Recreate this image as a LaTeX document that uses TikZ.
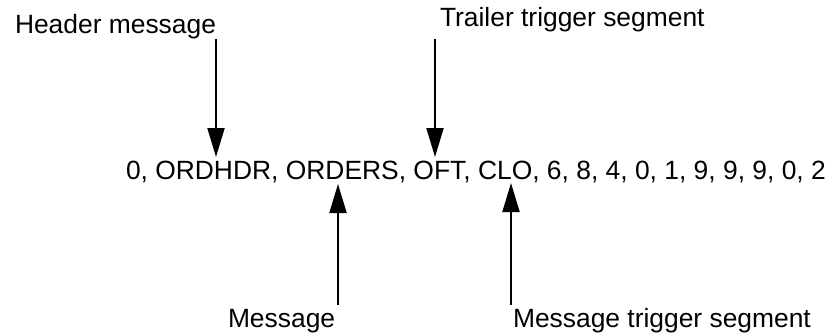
\documentclass[tikz,border=0pt]{standalone}
\usepackage{fontspec}
\setmainfont{Liberation Sans}
\usetikzlibrary{arrows.meta, positioning}

\begin{document}
\begin{tikzpicture}[x=0.5pt,y=-0.5pt,>={Triangle[length=14.5pt,width=8.5pt]},
  line width=1pt,
  label text/.style={inner sep=0pt,anchor=base west,font=\fontsize{13.2}{15}\selectfont}]
  \useasboundingbox (0,0) rectangle (833,333);
  % the record line
  \node[label text] (line) at (125,179) {0, ORDHDR, ORDERS, OFT, CLO, 6, 8, 4, 0, 1, 9, 9, 9, 0, 2};
  % labels above and below
  \node[label text] (hdr) at (14,33) {Header message};
  \node[label text] (trl) at (439,26) {Trailer trigger segment};
  \node[label text] (msg) at (227,327) {Message};
  \node[label text] (mtrg) at (512,327) {Message trigger segment};
  % arrow ends
  \coordinate (hdr start) at (216,39);
  \coordinate (hdr tip) at (216,157);
  \coordinate (trl start) at (435,39);
  \coordinate (trl tip) at (435,157);
  \coordinate (msg start) at (338,305);
  \coordinate (msg tip) at (338,184);
  \coordinate (mtrg start) at (511,305);
  \coordinate (mtrg tip) at (511,183);
  \draw[->] (hdr start) -- (hdr tip);
  \draw[->] (trl start) -- (trl tip);
  \draw[->] (msg start) -- (msg tip);
  \draw[->] (mtrg start) -- (mtrg tip);
\end{tikzpicture}
\end{document}
